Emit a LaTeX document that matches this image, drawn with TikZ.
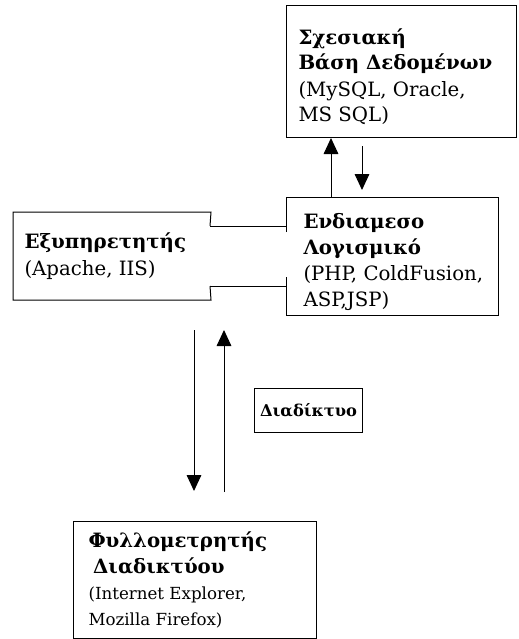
\documentclass[tikz,border=0pt]{standalone}
\usepackage{fontspec}
\setmainfont{DejaVu Serif}
\usetikzlibrary{arrows.meta,positioning,calc}
\tikzset{
  boxframe/.style={draw, rectangle, inner sep=0pt, anchor=north west},
  openbox/.style={rectangle, inner sep=0pt, anchor=north west},
  txt/.style={align=left, inner sep=0pt, anchor=west, font=\fontsize{14.8}{19}\selectfont},
  arr/.style={-{Triangle[width=11pt,length=12pt]}},
}
\begin{document}
\begin{tikzpicture}[x=0.75pt,y=-0.75pt,line width=0.75pt]
        \useasboundingbox (0,0) rectangle (518,639);

        \node (db) at (286,5) [boxframe, minimum width=172.5pt, minimum height=99pt] {};
        \node (mw) at (286,197) [openbox, minimum width=158.25pt, minimum height=87.75pt] {};
        \node (srv) at (13,212) [openbox, minimum width=147.75pt, minimum height=65.25pt] {};
        \node (net) at (254,388) [boxframe, minimum width=81pt, minimum height=33pt] {};
        \node (brw) at (73,521) [boxframe, minimum width=182.25pt, minimum height=87.75pt] {};

        \node (dbtxt) [txt, right=9pt of db.west, yshift=-4pt] {\textbf{Σχεσιακή}\\\textbf{Βάση Δεδομένων}\\[1pt](MySQL, Oracle,\\MS SQL)};
        \node (mwtxt) [txt, right=12.75pt of mw.west, yshift=-4.5pt] {\textbf{Ενδιαμεσο}\\\textbf{Λογισμικό}\\[1pt](PHP, ColdFusion,\\ASP,JSP)};
        \node (srvtxt) [txt, right=8.25pt of srv.west] {\textbf{Εξυπηρετητής}\\[1pt](Apache, IIS)};
        \node (nettxt) at (net.center) [inner sep=0pt, font=\bfseries\fontsize{12.2}{14}\selectfont] {Διαδίκτυο};
        \node (brwtxt) [txt, right=11.25pt of brw.west] {\textbf{Φυλλομετρητής}\\\hspace{3.5pt}\textbf{Διαδικτύου}\\[1pt]{\fontsize{12.5}{16.5}\selectfont(Internet Explorer,}\\{\fontsize{12.5}{16.5}\selectfont Mozilla Firefox)}};

        \coordinate (chup) at (210,226);
        \coordinate (chlo) at (210,286);
        \coordinate (gapup) at (286,232);
        \coordinate (gaplo) at (286,277);
        \draw (chup) -- (srv.north east) -- (srv.north west) -- (srv.south west) -- (srv.south east) -- (chlo);
        \draw (gapup) -- (mw.north west) -- (mw.north east) -- (mw.south east) -- (mw.south west) -- (gaplo);
        \draw (chup) -- (chup -| mw.west);
        \draw (chlo) -- (chlo -| mw.west);

        \draw[arr] ($(mw.north west)+(45,0)$) -- ($(db.south west)+(45,0)$);
        \draw[arr] ($(db.south west)+(76,8)$) -- ($(mw.north west)+(76,-7)$);
        \draw[arr] ($(srv.south west)+(181,30)$) -- ($(brw.north west)+(121,-30)$);
        \draw[arr] ($(brw.north west)+(151,-29)$) -- ($(srv.south west)+(211,30)$);
\end{tikzpicture}
\end{document}
